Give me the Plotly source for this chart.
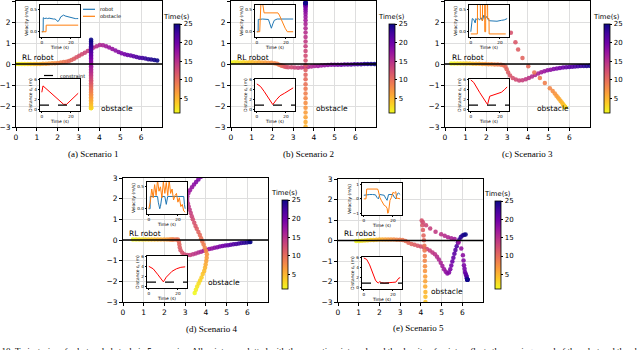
"""Robot / obstacle trajectories for five scenarios, with velocity and distance insets."""

import plotly.graph_objects as go

# time stamp of every trajectory point (s)
T = [1.0, 1.5, 2.0, 2.5, 3.0, 3.5, 4.0, 4.5, 5.0, 5.5, 6.0, 6.5, 7.0, 7.5, 8.0, 8.5,
     9.0, 9.5, 10.0, 10.5, 11.0, 11.5, 12.0, 12.5, 13.0, 13.5, 14.0, 14.5, 15.0, 15.5,
     16.0, 16.5, 17.0, 17.5, 18.0, 18.5, 19.0, 19.5, 20.0, 20.5, 21.0, 21.5, 22.0, 22.5,
     23.0, 23.5, 24.0, 24.5, 25.0]

# ---- scenario 1 ----
S1_ROBOT_X = [0.00, 0.14, 0.28, 0.42, 0.57, 0.71, 0.86, 1.00, 1.15, 1.29, 1.44, 1.58, 1.73,
              1.87, 2.01, 2.15, 2.29, 2.42, 2.54, 2.66, 2.78, 2.90, 3.03, 3.16, 3.30, 3.44,
              3.58, 3.72, 3.87, 4.02, 4.17, 4.32, 4.47, 4.62, 4.77, 4.92, 5.06, 5.21, 5.35,
              5.50, 5.64, 5.78, 5.92, 6.06, 6.20, 6.34, 6.48, 6.63, 6.77]
S1_ROBOT_Y = [0.00, 0.00, 0.00, 0.00, 0.00, 0.00, 0.00, 0.00, 0.00, 0.01, 0.01, 0.02, 0.03,
              0.04, 0.05, 0.07, 0.09, 0.11, 0.14, 0.19, 0.25, 0.32, 0.39, 0.46, 0.54, 0.62,
              0.71, 0.78, 0.85, 0.90, 0.89, 0.85, 0.79, 0.72, 0.64, 0.57, 0.51, 0.47, 0.43,
              0.40, 0.37, 0.33, 0.30, 0.28, 0.26, 0.23, 0.21, 0.19, 0.17]
S1_OBS_X = 3.6
S1_OBS_Y = [-2.10, -2.10, -2.10, -2.10, -2.10, -2.03, -1.95, -1.88, -1.80, -1.73, -1.66,
            -1.58, -1.51, -1.44, -1.36, -1.29, -1.21, -1.14, -1.07, -0.99, -0.92, -0.85,
            -0.77, -0.70, -0.62, -0.55, -0.48, -0.40, -0.33, -0.26, -0.18, -0.11, -0.03,
            0.04, 0.11, 0.19, 0.26, 0.33, 0.41, 0.48, 0.56, 0.63, 0.70, 0.78, 0.85, 0.92,
            1.00, 1.07, 1.15]
S1_VEL_ROBOT_T = [0, 0.9, 1.0, 2, 3, 4, 5, 6, 7, 8, 9, 10, 11, 12, 13, 14, 15, 16, 17, 18,
                  19, 20, 21, 22, 23, 24, 25]
S1_VEL_ROBOT = [0.0, 0.0, 0.32, 0.30, 0.31, 0.30, 0.31, 0.30, 0.30, 0.29, 0.29, 0.27, 0.23,
                0.27, 0.34, 0.37, 0.38, 0.36, 0.35, 0.34, 0.33, 0.32, 0.31, 0.31, 0.30,
                0.30, 0.30]
S1_VEL_OBS_T = [0, 2.9, 3.0, 25]
S1_VEL_OBS = [0.0, 0.0, 0.15, 0.15]
S1_DIST_T = [0, 0.8, 5, 10, 14, 15, 17, 20, 25]
S1_DIST = [3.5, 4.8, 3.7, 2.35, 1.25, 1.05, 1.05, 1.9, 3.3]

# ---- scenario 2 ----
S2_ROBOT_X = [0.00, 0.15, 0.30, 0.45, 0.60, 0.75, 0.90, 1.05, 1.20, 1.35, 1.50, 1.65, 1.80,
              1.95, 2.10, 2.22, 2.32, 2.40, 2.46, 2.52, 2.58, 2.66, 2.76, 2.92, 3.08, 3.24,
              3.40, 3.56, 3.72, 3.88, 4.04, 4.20, 4.36, 4.52, 4.68, 4.84, 5.00, 5.16, 5.32,
              5.48, 5.64, 5.80, 5.96, 6.12, 6.28, 6.44, 6.60, 6.76, 6.92]
S2_ROBOT_Y = [0.07, 0.08, 0.08, 0.07, 0.08, 0.07, 0.08, 0.08, 0.07, 0.08, 0.07, 0.07, 0.06,
              0.06, 0.04, 0.01, -0.03, -0.06, -0.08, -0.10, -0.12, -0.14, -0.15, -0.16,
              -0.17, -0.18, -0.17, -0.16, -0.14, -0.12, -0.10, -0.09, -0.07, -0.06, -0.05,
              -0.04, -0.04, -0.03, -0.03, -0.02, -0.02, -0.02, -0.01, -0.01, -0.01, 0.00,
              0.00, 0.00, 0.00]
S2_OBS_X = 3.6
S2_OBS_Y = [-4.30, -4.30, -4.30, -4.30, -4.15, -3.85, -3.55, -3.25, -2.98, -2.76, -2.53,
            -2.31, -2.08, -1.86, -1.63, -1.41, -1.18, -0.96, -0.73, -0.51, -0.28, -0.06,
            0.17, 0.39, 0.62, 0.84, 1.07, 1.29, 1.50, 1.70, 1.90, 2.08, 2.24, 2.38, 2.50,
            2.60, 2.68, 2.75, 2.80, 2.84, 2.87, 2.89, 2.90, 2.90, 2.90, 2.90, 2.90, 2.90,
            2.90]
S2_VEL_ROBOT_T = [0, 0.9, 1.0, 4, 8, 9, 10, 11, 12, 14, 18, 22, 25]
S2_VEL_ROBOT = [0.0, 0.0, 0.28, 0.29, 0.28, 0.20, 0.08, 0.18, 0.26, 0.29, 0.29, 0.30, 0.29]
S2_VEL_OBS_T = [0, 2.0, 2.8, 4.0, 5.0, 6, 10, 14.5, 15.5, 16.5, 17.5, 18.5, 19.5, 21, 25]
S2_VEL_OBS = [0.0, 0.0, 0.65, 0.65, 0.43, 0.43, 0.44, 0.43, 0.38, 0.30, 0.22, 0.14, 0.08,
              0.0, 0.0]
S2_DIST_T = [0, 2.5, 5, 7.5, 9.5, 11, 13.5, 16, 19, 22, 25]
S2_DIST = [5.2, 4.7, 3.7, 2.5, 1.5, 1.0, 2.0, 2.8, 3.3, 3.8, 4.4]

# ---- scenario 3 ----
S3_ROBOT_X = [0.30, 0.45, 0.60, 0.75, 0.90, 1.05, 1.20, 1.35, 1.50, 1.65, 1.80, 1.95, 2.10,
              2.25, 2.40, 2.55, 2.70, 2.82, 2.92, 2.98, 3.05, 3.14, 3.27, 3.42, 3.58, 3.74,
              3.90, 4.05, 4.20, 4.35, 4.50, 4.65, 4.80, 4.95, 5.10, 5.25, 5.40, 5.55, 5.70,
              5.85, 6.00, 6.14, 6.28, 6.42, 6.56, 6.70, 6.84, 6.98, 7.12]
S3_ROBOT_Y = [0.02, 0.02, 0.02, 0.02, 0.02, 0.02, 0.02, 0.01, 0.01, 0.01, 0.00, 0.00, -0.01,
              -0.01, -0.02, -0.02, -0.03, -0.06, -0.13, -0.25, -0.40, -0.55, -0.67, -0.74,
              -0.78, -0.77, -0.73, -0.67, -0.60, -0.52, -0.45, -0.39, -0.34, -0.30, -0.27,
              -0.24, -0.21, -0.19, -0.17, -0.15, -0.14, -0.13, -0.12, -0.11, -0.10, -0.09,
              -0.09, -0.08, -0.08]
S3_OBS_X = [5.80, 5.80, 5.80, 5.80, 5.77, 5.73, 5.69, 5.64, 5.58, 5.52, 5.45, 5.38, 5.30,
            5.20, 5.06, 4.82, 4.58, 4.31, 4.02, 3.74, 3.53, 3.40, 3.18]
S3_OBS_Y = [-2.05, -2.05, -2.05, -2.05, -2.01, -1.96, -1.90, -1.83, -1.76, -1.68, -1.60,
            -1.51, -1.41, -1.29, -1.15, -0.91, -0.67, -0.40, -0.11, 0.29, 0.69, 1.04, 1.49]
S3_VEL_ROBOT_T = [0, 1, 2, 3, 3.5, 4, 5, 6, 7, 8, 9, 10, 11, 12, 13, 15, 18, 21, 23, 25]
S3_VEL_ROBOT = [0.0, 0.30, 0.28, 0.20, 0.30, 0.28, 0.30, 0.27, 0.32, 0.25, 0.38, 0.30, 0.35,
                0.27, 0.25, 0.24, 0.24, 0.26, 0.27, 0.30]
S3_VEL_OBS_T = [0, 4.5, 4.6, 6.5, 6.6, 8.0, 8.1, 9.5, 9.6, 10.2, 10.3, 11.5, 11.6, 12.5,
                12.6, 24]
S3_VEL_OBS = [-0.05, -0.05, 0.7, 0.7, 0.3, 0.25, 0.7, 0.7, 0.0, 0.0, 0.7, 0.7, 0.3, 0.3,
              -0.05, -0.05]
S3_DIST_T = [0, 2, 6, 11, 11.5, 13, 15, 18, 21, 23, 25]
S3_DIST = [6.0, 5.5, 3.5, 1.05, 1.0, 2.7, 2.9, 3.1, 3.5, 4.0, 4.6]

# ---- scenario 4 ----
S4_ROBOT_X = [0.48, 0.63, 0.78, 0.93, 1.08, 1.23, 1.38, 1.53, 1.68, 1.83, 1.98, 2.12, 2.24,
              2.32, 2.38, 2.45, 2.56, 2.65, 2.70, 2.72, 2.74, 2.78, 2.86, 2.97, 3.10, 3.24,
              3.38, 3.51, 3.64, 3.77, 3.90, 4.03, 4.16, 4.29, 4.42, 4.55, 4.68, 4.81, 4.94,
              5.07, 5.20, 5.33, 5.46, 5.59, 5.72, 5.85, 5.98, 6.10, 6.15]
S4_ROBOT_Y = [0.02, 0.02, 0.02, 0.02, 0.02, 0.02, 0.02, 0.02, 0.02, 0.02, 0.03, 0.03, 0.03,
              0.03, 0.03, 0.03, 0.03, 0.02, -0.08, -0.22, -0.36, -0.50, -0.62, -0.70, -0.73,
              -0.72, -0.69, -0.65, -0.61, -0.57, -0.52, -0.48, -0.44, -0.41, -0.38, -0.35,
              -0.32, -0.29, -0.27, -0.25, -0.23, -0.21, -0.19, -0.17, -0.15, -0.13, -0.12,
              -0.10, -0.10]
S4_OBS_X = [3.46, 3.52, 3.58, 3.65, 3.72, 3.79, 3.85, 3.92, 3.96, 3.99, 4.02, 4.04, 4.05,
            4.01, 3.95, 3.89, 3.83, 3.77, 3.71, 3.64, 3.56, 3.50, 3.44, 3.37, 3.32, 3.27,
            3.22, 3.17, 3.13, 3.10, 3.11, 3.16, 3.23, 3.33, 3.43, 3.53, 3.64, 3.76]
S4_OBS_Y = [-2.56, -2.41, -2.25, -2.10, -1.96, -1.81, -1.65, -1.50, -1.34, -1.19, -1.02,
            -0.86, -0.69, -0.53, -0.38, -0.22, -0.07, 0.09, 0.24, 0.39, 0.54, 0.68, 0.84,
            1.00, 1.15, 1.31, 1.46, 1.62, 1.78, 1.94, 2.11, 2.27, 2.41, 2.55, 2.68, 2.81,
            2.93, 3.06]
S4_VEL_ROBOT_T = [0, 0.9, 1, 6, 6.5, 7, 7.5, 8, 8.5, 9, 11, 11.5, 12, 13, 20, 24, 24.5, 25]
S4_VEL_ROBOT = [0.0, 0.0, 0.28, 0.28, 0.15, 0.02, 0.0, 0.05, 0.28, 0.28, 0.28, 0.12, 0.10,
                0.28, 0.28, 0.28, 0.10, 0.0]
S4_VEL_OBS_T = [0, 1, 2, 3, 4, 5, 6, 7, 8, 9, 10, 11, 12, 13, 14, 15, 16, 17, 18, 19, 20,
                21, 22, 23, 24, 25]
S4_VEL_OBS = [0.0, 0.15, 0.45, 0.25, 0.55, 0.30, 0.65, 0.40, 0.50, 0.25, 0.62, 0.35, 0.60,
              0.30, 0.65, 0.35, 0.45, 0.20, 0.30, 0.35, 0.15, 0.25, 0.05, 0.10, -0.05, -0.08]
S4_DIST_T = [0, 3, 6, 8, 10, 12, 14, 16, 19, 22, 25]
S4_DIST = [4.1, 3.6, 2.5, 1.6, 0.95, 1.9, 2.6, 3.1, 3.6, 3.9, 4.0]

# ---- scenario 5 ----
S5_ROBOT_X = [0.88, 1.02, 1.16, 1.30, 1.44, 1.58, 1.72, 1.86, 2.00, 2.14, 2.28, 2.42, 2.56,
              2.70, 2.84, 2.98, 3.12, 3.26, 3.40, 3.55, 3.70, 3.85, 4.00, 4.15, 4.29, 4.43,
              4.56, 4.68, 4.78, 4.87, 4.96, 5.04, 5.12, 5.20, 5.28, 5.36, 5.42, 5.47, 5.52,
              5.57, 5.62, 5.67, 5.73, 5.79, 5.86, 5.93, 6.01, 6.09, 6.16]
S5_ROBOT_Y = [-0.03, -0.02, -0.01, 0.00, 0.01, 0.02, 0.03, 0.04, 0.05, 0.05, 0.05, 0.05,
              0.05, 0.05, 0.04, 0.04, 0.03, -0.03, -0.11, -0.17, -0.21, -0.25, -0.29, -0.34,
              -0.41, -0.49, -0.58, -0.67, -0.79, -0.93, -1.08, -1.24, -1.40, -1.53, -1.61,
              -1.56, -1.40, -1.22, -1.03, -0.84, -0.65, -0.46, -0.28, -0.10, 0.05, 0.17,
              0.25, 0.28, 0.29]
S5_OBS_X = [4.22, 4.22, 4.22, 4.22, 4.22, 4.22, 4.22, 4.22, 4.22, 4.21, 4.21, 4.21, 4.20,
            4.20, 4.19, 4.19, 4.18, 4.17, 4.15, 4.13, 4.10, 4.07, 4.04, 4.10, 4.25, 4.45,
            4.71, 4.98, 5.15, 5.31, 5.47, 5.63, 5.82, 5.95, 6.03, 6.06, 6.08, 6.11, 6.13,
            6.16, 6.19, 6.21, 6.22, 6.23, 6.24, 6.24, 6.25, 6.25, 6.25]
S5_OBS_Y = [-4.50, -4.25, -4.00, -3.75, -3.50, -3.25, -3.00, -2.74, -2.51, -2.24, -1.99,
            -1.76, -1.49, -1.26, -0.99, -0.76, -0.49, -0.26, 0.01, 0.24, 0.51, 0.74, 0.98,
            0.89, 0.75, 0.59, 0.43, 0.30, 0.23, 0.16, 0.11, 0.07, -0.10, -0.39, -0.72,
            -0.97, -1.21, -1.38, -1.54, -1.62, -1.70, -1.77, -1.84, -1.87, -1.89, -1.90,
            -1.91, -1.91, -1.92]
S5_VEL_ROBOT_T = [0, 2, 4, 6, 8, 9, 10, 11, 12, 14, 15, 16, 17, 18, 20, 21, 22, 23, 24, 25]
S5_VEL_ROBOT = [0.25, 0.30, 0.30, 0.30, 0.28, 0.10, 0.0, 0.30, 0.30, 0.25, 0.05, -0.10,
                0.30, 0.30, 0.30, 0.10, 0.0, 0.35, 0.40, 0.30]
S5_VEL_OBS_T = [0, 1.5, 2.0, 9.5, 10.0, 11.0, 12.0, 13.0, 14.0, 15.0, 16.0, 16.5, 17.0,
                17.5, 18.0, 19.0, 20.0, 21.0, 22.0, 22.5, 23.0, 25]
S5_VEL_OBS = [0.0, 0.0, 0.68, 0.68, 0.55, 0.1, -0.1, -0.3, -0.45, -0.5, -0.65, -1.0, -0.9,
              -0.5, -0.1, 0.1, 0.45, 0.4, 0.5, 0.0, 0.05, 0.0]
S5_DIST_T = [0, 2, 4, 5, 6, 7, 8, 9, 10, 11, 12, 14, 16, 18, 20, 22, 23, 24, 25]
S5_DIST = [6.0, 5.7, 4.6, 3.8, 3.0, 2.2, 1.5, 1.1, 0.95, 1.2, 1.0, 0.9, 1.0, 1.0, 1.05,
           1.1, 1.5, 1.9, 2.0]

CONSTRAINT = 0.9
TIME_TICKS = [5, 10, 15, 20, 25]
CAPTIONS = ["(a) Scenario 1", "(b) Scenario 2", "(c) Scenario 3", "(d) Scenario 4",
            "(e) Scenario 5"]
# text labels (data coordinates of their left edge)
ROBOT_LABEL_XY = [(0.2, 0.3), (0.2, 0.33), (0.22, 0.3), (0.2, 0.33), (0.2, 0.35)]
OBS_LABEL_XY = [(4.0, -2.1), (4.0, -2.1), (4.33, -2.1), (4.0, -2.07), (4.39, -2.5)]

W, H = 640, 350
SANS = "DejaVu Sans"
SERIF = "Liberation Serif"
BLUE, ORANGE = "#1f77b4", "#ff7f0e"

# layout in pixels: plot boxes (left, top, right, bottom), colorbars (left, top, bottom)
PANEL_BOX = [(16, 1, 162, 127), (231, 1, 376, 127), (445, 1, 590, 127),
             (123, 178, 268, 302), (338, 179, 483, 302)]
CBAR_BOX = [(174, 24, 113), (389, 24, 113), (604, 24, 113), (282, 200, 289), (495, 201, 289)]
CAPTION_XY = [(93, 154), (308, 154), (527, 154), (211, 329), (418, 328)]


def fx(p):
    return p / W


def fy(p):
    return 1 - p / H


def axname(letter, n):
    return f"{letter}axis" if n == 1 else f"{letter}axis{n}"


def aref(letter, n):
    return letter if n == 1 else f"{letter}{n}"


def inset_axes(layout, n, box, yrange, ytickvals, ytitle, ytickformat=None):
    """Small matplotlib-like inset axes."""
    left, top, right, bottom = box
    tick = dict(ticks="outside", ticklen=1.5, tickwidth=0.5, tickcolor="black",
                tickfont=dict(size=4.2, color="black"), showline=True, mirror=True,
                linecolor="black", linewidth=0.6, showgrid=False, zeroline=False,
                automargin=False)
    layout[axname("x", n)] = dict(
        domain=[fx(left), fx(right)], range=[-1.25, 26.25], anchor=aref("y", n),
        tickvals=[0, 20],
        title=dict(text="Time (s)", font=dict(size=4.4, color="black"), standoff=1), **tick)
    layout[axname("y", n)] = dict(
        domain=[fy(bottom), fy(top)], range=yrange, anchor=aref("x", n),
        tickvals=ytickvals, tickformat=ytickformat,
        title=dict(text=ytitle, font=dict(size=4.4, color="black"), standoff=1), **tick)


scenarios = [
    ((S1_ROBOT_X, S1_ROBOT_Y), ([S1_OBS_X] * len(S1_OBS_Y), S1_OBS_Y),
     (S1_VEL_ROBOT_T, S1_VEL_ROBOT), (S1_VEL_OBS_T, S1_VEL_OBS), (S1_DIST_T, S1_DIST)),
    ((S2_ROBOT_X, S2_ROBOT_Y), ([S2_OBS_X] * len(S2_OBS_Y), S2_OBS_Y),
     (S2_VEL_ROBOT_T, S2_VEL_ROBOT), (S2_VEL_OBS_T, S2_VEL_OBS), (S2_DIST_T, S2_DIST)),
    ((S3_ROBOT_X, S3_ROBOT_Y), (S3_OBS_X, S3_OBS_Y),
     (S3_VEL_ROBOT_T, S3_VEL_ROBOT), (S3_VEL_OBS_T, S3_VEL_OBS), (S3_DIST_T, S3_DIST)),
    ((S4_ROBOT_X, S4_ROBOT_Y), (S4_OBS_X, S4_OBS_Y),
     (S4_VEL_ROBOT_T, S4_VEL_ROBOT), (S4_VEL_OBS_T, S4_VEL_OBS), (S4_DIST_T, S4_DIST)),
    ((S5_ROBOT_X, S5_ROBOT_Y), (S5_OBS_X, S5_OBS_Y),
     (S5_VEL_ROBOT_T, S5_VEL_ROBOT), (S5_VEL_OBS_T, S5_VEL_OBS), (S5_DIST_T, S5_DIST)),
]

fig = go.Figure()
layout = {}
shapes = []
annotations = []

for k, (robot, obs, vrob, vobs, dist) in enumerate(scenarios):
    m, v, d = k + 1, k + 6, k + 11
    left, top, right, bottom = PANEL_BOX[k]

    # main trajectory axes
    main = dict(showline=True, mirror=True, linecolor="black", linewidth=1,
                ticks="outside", ticklen=3, tickwidth=0.8, tickcolor="black",
                tickfont=dict(family=SANS, size=7.5, color="black"),
                showgrid=True, gridcolor="#dedede", gridwidth=0.8, zeroline=False,
                automargin=False)
    layout[axname("x", m)] = dict(domain=[fx(left), fx(right)], range=[0, 7],
                                  tickvals=[0, 1, 2, 3, 4, 5, 6], anchor=aref("y", m), **main)
    layout[axname("y", m)] = dict(domain=[fy(bottom), fy(top)], range=[-3, 3],
                                  tickvals=[-3, -2, -1, 0, 1, 2, 3], anchor=aref("x", m), **main)

    # colour axis / colorbar for time
    cl, ct, cb = CBAR_BOX[k]
    layout[f"coloraxis{m}"] = dict(
        colorscale="Plasma", reversescale=True, cmin=1, cmax=25,
        colorbar=dict(x=fx(cl), xanchor="left", y=fy((ct + cb) / 2), yanchor="middle",
                      len=cb - ct, lenmode="pixels", thickness=6, thicknessmode="pixels",
                      xpad=0, ypad=0, outlinewidth=0.8, outlinecolor="black",
                      tickvals=TIME_TICKS, ticks="outside", ticklen=2.5, tickwidth=0.8,
                      tickcolor="black", tickfont=dict(family=SANS, size=7, color="black")))
    annotations.append(dict(text="Time(s)", xref="paper", yref="paper", x=fx(cl + 2),
                            y=fy(ct - 7), xanchor="center", yanchor="middle",
                            showarrow=False, font=dict(family=SANS, size=6.8, color="black")))

    for (xs, ys) in (robot, obs):
        fig.add_trace(go.Scatter(
            x=xs, y=ys, mode="markers", xaxis=aref("x", m), yaxis=aref("y", m),
            marker=dict(size=4.5, color=T[:len(xs)], coloraxis=f"coloraxis{m}",
                        opacity=0.9, line=dict(width=0)),
            showlegend=False))

    shapes.append(dict(type="line", xref=f"{aref('x', m)} domain", x0=0, x1=1,
                       yref=aref("y", m), y0=0, y1=0, line=dict(color="black", width=1.4)))

    rx, ry = ROBOT_LABEL_XY[k]
    ox, oy = OBS_LABEL_XY[k]
    for text, x, y in (("RL robot", rx, ry), ("obstacle", ox, oy)):
        annotations.append(dict(text=text, xref=aref("x", m), yref=aref("y", m), x=x, y=y,
                                xanchor="left", yanchor="middle", showarrow=False,
                                font=dict(family=SANS, size=7.5, color="black")))

    cx, cy = CAPTION_XY[k]
    annotations.append(dict(text=CAPTIONS[k], xref="paper", yref="paper", x=fx(cx),
                            y=fy(cy), xanchor="center", yanchor="middle", showarrow=False,
                            font=dict(family=SERIF, size=9, color="black")))

    # insets
    if k == 4:
        vrange, vticks, vfmt = [-1.12, 1.1], [-1, 0, 1], None
    else:
        vrange, vticks, vfmt = [-0.12, 0.61], [0, 0.5], ".1f"
    inset_axes(layout, v, (left + 24, top + 4, left + 64, top + 36), vrange, vticks,
               "Velocity (m/s)", vfmt)
    inset_axes(layout, d, (left + 24, top + 78, left + 64, top + 110), [-0.3, 6.2],
               [0, 2, 4, 6], "Distance ε<sub>t</sub> (m)")

    fig.add_trace(go.Scatter(x=vrob[0], y=vrob[1], mode="lines", line=dict(color=BLUE, width=1),
                             xaxis=aref("x", v), yaxis=aref("y", v), showlegend=False))
    fig.add_trace(go.Scatter(x=vobs[0], y=vobs[1], mode="lines",
                             line=dict(color=ORANGE, width=1),
                             xaxis=aref("x", v), yaxis=aref("y", v), showlegend=False))
    fig.add_trace(go.Scatter(x=dist[0], y=dist[1], mode="lines", line=dict(color="red", width=1),
                             xaxis=aref("x", d), yaxis=aref("y", d), showlegend=False))
    shapes.append(dict(type="line", xref=f"{aref('x', d)} domain", x0=0, x1=1,
                       yref=aref("y", d), y0=CONSTRAINT, y1=CONSTRAINT,
                       line=dict(color="black", width=1.2, dash="dash")))

# hand-drawn legends of scenario 1
for (y, color, text) in ((9.3, BLUE, "robot"), (16.3, ORANGE, "obstacle")):
    shapes.append(dict(type="line", xref="paper", yref="paper", x0=fx(83), x1=fx(95),
                       y0=fy(y), y1=fy(y), line=dict(color=color, width=1.2)))
    annotations.append(dict(text=text, xref="paper", yref="paper", x=fx(98), y=fy(y),
                            xanchor="left", yanchor="middle", showarrow=False,
                            font=dict(family=SANS, size=5, color="black")))
shapes.append(dict(type="line", xref="paper", yref="paper", x0=fx(44), x1=fx(55),
                   y0=fy(75.5), y1=fy(75.5), line=dict(color="black", width=1.2, dash="dash")))
annotations.append(dict(text="constraint", xref="paper", yref="paper", x=fx(58), y=fy(75.5),
                        xanchor="left", yanchor="middle", showarrow=False,
                        font=dict(family=SANS, size=5, color="black")))

# first line of the figure caption, cut off by the image border
annotations.append(dict(
    text="Fig. 10: Trajectories of robot and obstacle in 5 scenarios. All points are plotted "
         "with the same time interval, and the density of points reflects the moving speed of "
         "the robot and the obstacle.",
    xref="paper", yref="paper", x=fx(-17), y=fy(344), xanchor="left", yanchor="top",
    showarrow=False, font=dict(family=SERIF, size=9, color="black")))

fig.update_layout(
    width=W, height=H, autosize=False,
    margin=dict(l=0, r=0, t=0, b=0, autoexpand=False),
    paper_bgcolor="white", plot_bgcolor="#fffffe",
    font=dict(family=SANS, color="black"),
    shapes=shapes, annotations=annotations, showlegend=False,
    **layout,
)

# the page body has a default 8px margin; drop it so the figure starts at the corner
fig.write_html("out.html", config={"displayModeBar": False},
               post_script="document.body.style.margin='0';document.body.style.overflow='hidden';")
